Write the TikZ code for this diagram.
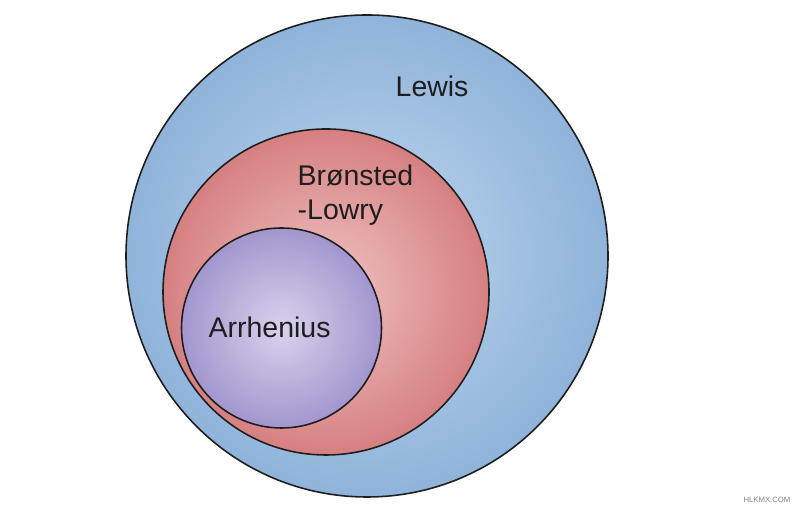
\documentclass[tikz,border=0pt]{standalone}
\usepackage{fontspec}
\setmainfont{Liberation Sans}
\definecolor{lewisout}{RGB}{143,179,218}
\definecolor{lewisin}{RGB}{192,215,238}
\definecolor{bronout}{RGB}{214,128,128}
\definecolor{bronin}{RGB}{240,196,196}
\definecolor{arrout}{RGB}{163,150,206}
\definecolor{arrin}{RGB}{217,210,236}
\definecolor{ink}{RGB}{30,30,30}
\begin{document}
\begin{tikzpicture}[ring/.style={shape=circle,draw=ink,line width=0.45pt,inner sep=0pt},
    tag/.style={text=ink,font=\fontsize{8.1pt}{9.8pt}\selectfont,inner sep=0pt}]
    \useasboundingbox (0,0) rectangle (8,5.12);

    \node[ring,minimum size=4.82cm,inner color=lewisin,outer color=lewisout] (Lewis) at (3.67,2.56) {};
    \node[ring,minimum size=3.26cm,inner color=bronin,outer color=bronout] (Bron) at (3.26,2.20) {};
    \node[ring,minimum size=2.00cm,inner color=arrin,outer color=arrout] (Arr) at (2.815,1.84) {};

    \node[tag,anchor=base west] (LewisT) at (3.95,4.15) {Lewis};
    \node[tag,anchor=base west,align=left] (BronT) at (2.97,2.92) {Brønsted\\-Lowry};
    \node[tag,anchor=base west] (ArrT) at (2.08,1.74) {Arrhenius};

    \node[text=gray,font=\fontsize{2.2pt}{2.6pt}\selectfont,inner sep=0pt] (Mark) at (7.67,0.12) {HLKMX.COM};
  \end{tikzpicture}
\end{document}
